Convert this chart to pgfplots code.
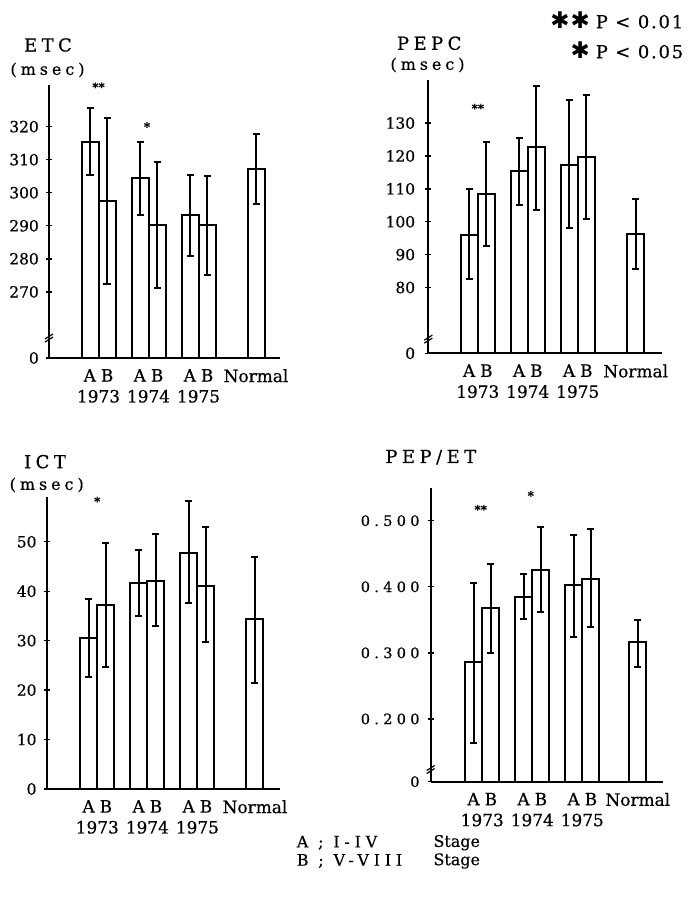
\documentclass[border=0pt]{standalone}
\usepackage{fontspec}
\setmainfont{DejaVu Serif}[FakeBold=0.5]
\newfontfamily\symfont{DejaVu Sans}
\usepackage{pgfplots}
\pgfplotsset{compat=1.18}

\newcommand\ttl[1]{{\fontsize{18}{18}\selectfont\addfontfeature{LetterSpace=25}#1}}
\newcommand\msec{{\fontsize{16}{16}\selectfont\addfontfeature{LetterSpace=25}(msec)}}
\newcommand\sig[1]{{\fontsize{12}{12}\selectfont\bfseries #1}}
\newcommand\lsp[1]{{\addfontfeature{LetterSpace=30}#1}}

\pgfplotsset{
  panel/.style={
    scale only axis,
    anchor=south west,
    axis x line*=bottom,
    axis y line*=left,
    axis line style={-, line width=2bp},
    xtick={1,2,3,4.15},
    xticklabels={{A\hspace{5bp}B\\1973},{A\hspace{5bp}B\\1974},{A\hspace{5bp}B\\1975},Normal},
    xtick style={draw=none},
    xticklabel style={align=center, font=\fontsize{17}{21}\selectfont, inner sep=0pt, yshift=-8bp},
    yticklabel style={font=\fontsize{15.5}{15.5}\selectfont, inner sep=0pt, xshift=-7bp},
    /pgf/number format/assume math mode=true,
    ytick style={line width=1.4bp, black},
    tick align=center,
    major tick length=6bp,
    clip=false,
  },
  bars/.style={
    ybar, bar width=0.34, bar shift=0pt,
    draw=black, fill=white, line width=2bp,
    error bars/.cd, y dir=both, y explicit,
    error bar style={line width=2bp},
    error mark options={rotate=90, mark size=3.5bp, line width=2bp},
  },
}

\begin{document}
\begin{tikzpicture}
\useasboundingbox (0,0) rectangle (698bp,899bp);

% ETC
\begin{axis}[panel, at={(49bp,541bp)}, width=231bp, height=273bp,
  xmin=0.01, xmax=4.63, ymin=0, ymax=82.6,
  y filter/.expression={y-250},
  ytick={0,20,30,40,50,60,70},
  yticklabels={0,270,280,290,300,310,320}]
\addplot[bars] coordinates {
  (0.83,315.5) +- (0,10)
  (1.17,297.5) +- (0,25)
  (1.83,304.4) +- (0,11)
  (2.17,290.3) +- (0,19)
  (2.83,293.2) +- (0,12.3)
  (3.17,290.2) +- (0,15)
  (4.15,307.2) +- (0,10.6)
};
\node at (axis cs:1,82) {\sig{**}};
\node at (axis cs:1.97,70) {\sig{*}};
\draw[line width=1.2bp] ([xshift=-4bp,yshift=-2bp]axis cs:0.01,6.35) -- ++(8bp,5bp);
\draw[line width=1.2bp] ([xshift=-4bp,yshift=-5bp]axis cs:0.01,6.35) -- ++(8bp,5bp);
\end{axis}

% PEPC
\begin{axis}[panel, at={(428.3bp,545.7bp)}, width=233.4bp, height=273.3bp,
  xmin=0.01, xmax=4.68, ymin=0, ymax=83.1,
  y filter/.expression={y-60},
  xtick={1,2,3,4.16},
  yticklabel style={xshift=-3bp},
  ytick={0,20,30,40,50,60,70},
  yticklabels={0,80,90,100,110,120,130}]
\addplot[bars] coordinates {
  (0.83,96.0) += (0,14.0) -= (0,13.4)
  (1.17,108.5) +- (0,15.8)
  (1.83,115.3) +- (0,10.3)
  (2.17,122.7) += (0,18.6) -= (0,19.1)
  (2.83,117.3) += (0,19.8) -= (0,19.2)
  (3.17,119.7) += (0,18.7) -= (0,18.9)
  (4.16,96.2) +- (0,10.7)
};
\node at (axis cs:1,74.5) {\sig{**}};
\draw[line width=1.2bp] ([xshift=-4bp,yshift=-2bp]axis cs:0.01,4.6) -- ++(8bp,5bp);
\draw[line width=1.2bp] ([xshift=-4bp,yshift=-5bp]axis cs:0.01,4.6) -- ++(8bp,5bp);
\end{axis}

% ICT
\begin{axis}[panel, at={(46.7bp,110bp)}, width=233.3bp, height=291.7bp,
  xmin=-0.01, xmax=4.65, ymin=0, ymax=59,
  ytick={0,10,20,30,40,50}]
\addplot[bars] coordinates {
  (0.83,30.5) +- (0,7.9)
  (1.17,37.2) +- (0,12.5)
  (1.83,41.6) +- (0,6.7)
  (2.17,42.0) += (0,9.5) -= (0,9.1)
  (2.83,47.8) += (0,10.5) -= (0,10.1)
  (3.17,41.1) += (0,11.8) -= (0,11.4)
  (4.15,34.3) += (0,12.7) -= (0,12.9)
};
\node at (axis cs:1,58.2) {\sig{*}};
\end{axis}

% PEP/ET
\begin{axis}[panel, at={(430.7bp,117.3bp)}, width=232.6bp, height=293.4bp,
  xmin=-0.03, xmax=4.62, ymin=0, ymax=0.444,
  y filter/.expression={y-0.105},
  xtick={1,2,3,4.11},
  yticklabel style={xshift=-1bp, font=\fontsize{14.5}{14.5}\selectfont},
  ytick={0,0.095,0.195,0.295,0.395},
  yticklabels={0,\lsp{0.200},\lsp{0.300},\lsp{0.400},\lsp{0.500}}]
\addplot[bars] coordinates {
  (0.83,0.286) += (0,0.120) -= (0,0.122)
  (1.17,0.368) += (0,0.066) -= (0,0.068)
  (1.83,0.384) += (0,0.035) -= (0,0.033)
  (2.17,0.426) += (0,0.064) -= (0,0.064)
  (2.83,0.402) += (0,0.077) -= (0,0.078)
  (3.17,0.412) += (0,0.075) -= (0,0.073)
  (4.11,0.316) += (0,0.034) -= (0,0.037)
};
\node at (axis cs:0.97,0.412) {\sig{**}};
\node at (axis cs:1.97,0.433) {\sig{*}};
\draw[line width=1.2bp] ([xshift=-4bp,yshift=-2bp]axis cs:-0.03,0.020) -- ++(8bp,5bp);
\draw[line width=1.2bp] ([xshift=-4bp,yshift=-5bp]axis cs:-0.03,0.020) -- ++(8bp,5bp);
\end{axis}

% titles
\node at (48bp,854bp) {\ttl{ETC}};
\node at (47.5bp,829bp) {\msec};
\node at (429.2bp,855.7bp) {\ttl{PEPC}};
\node at (427.5bp,834bp) {\msec};
\node at (45bp,437.3bp) {\ttl{ICT}};
\node at (46.7bp,414bp) {\msec};
\node at (430.8bp,441.7bp) {\ttl{PEP/ET}};

% significance key
\node[anchor=east, font=\fontsize{18}{18}\selectfont] at (686.7bp,879bp) {{\symfont\fontsize{23}{23}\selectfont ✱\hspace{1bp}✱}\hspace{6bp}\addfontfeature{LetterSpace=10}P < 0.01};
\node[anchor=east, font=\fontsize{18}{18}\selectfont] at (686.7bp,849bp) {{\symfont\fontsize{23}{23}\selectfont ✱}\hspace{6bp}\addfontfeature{LetterSpace=10}P < 0.05};

% stage key
\begin{scope}[every node/.style={anchor=west, font=\fontsize{16}{16}\selectfont}]
\node at (293.3bp,56.3bp) {\addfontfeature{LetterSpace=30}A ; I-IV};
\node at (430bp,56.3bp) {Stage};
\node at (293.3bp,38bp) {\addfontfeature{LetterSpace=30}B ; V-VIII};
\node at (430bp,38bp) {Stage};
\end{scope}
\end{tikzpicture}
\end{document}
